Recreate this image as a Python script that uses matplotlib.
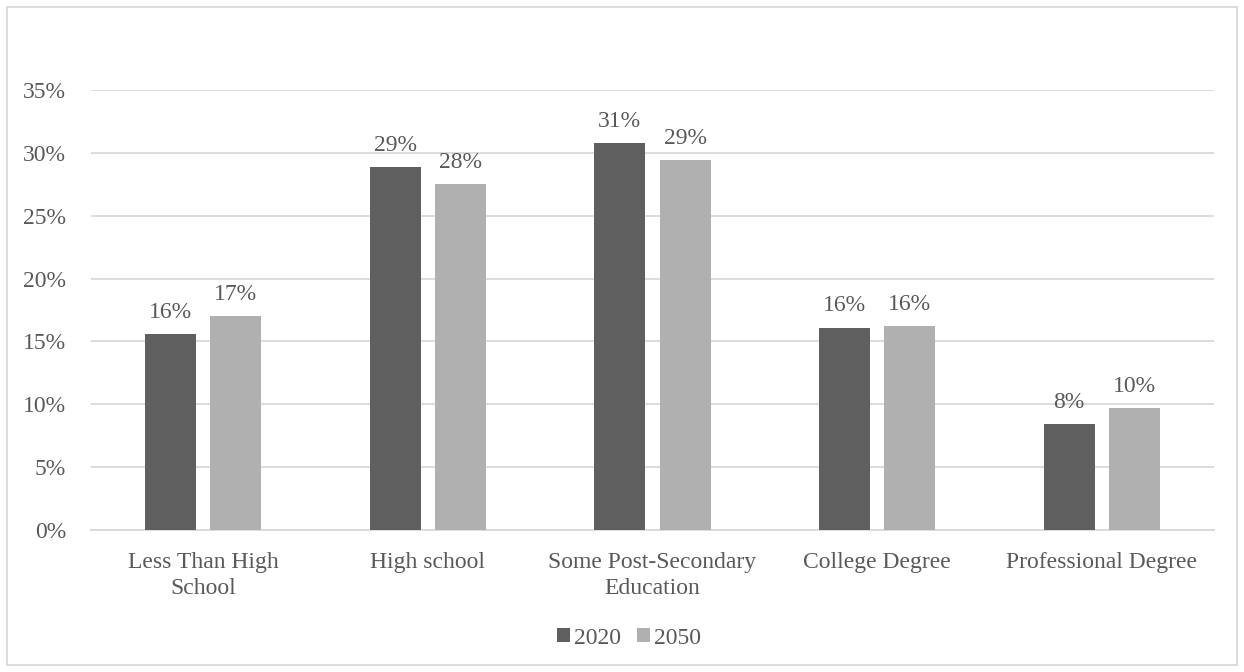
import matplotlib
matplotlib.use("Agg")
import matplotlib.pyplot as plt
import numpy as np
from matplotlib.patches import Rectangle

categories = ["Less Than High\nSchool", "High school", "Some Post-Secondary\nEducation",
              "College Degree", "Professional Degree"]
series_names = ["2020", "2050"]
values_2020 = [15.6, 28.9, 30.8, 16.1, 8.4]
values_2050 = [17.0, 27.5, 29.4, 16.2, 9.7]
yticks = [0, 5, 10, 15, 20, 25, 30, 35]

colors = ["#5f5f5f", "#b0b0b0"]
text_color = "#595959"
grid_color = "#d9d9d9"
fs = 17

plt.rcParams['font.family'] = ['Liberation Serif', 'DejaVu Serif']

fig = plt.figure(figsize=(12.44, 6.72), dpi=100)
ax = fig.add_axes([91/1244, 1 - 530/672, (1214-91)/1244, (530-90)/672])

x = np.arange(len(categories))
w = 0.227
off = 0.145
b1 = ax.bar(x - off, values_2020, w, color=colors[0], label=series_names[0], zorder=3)
b2 = ax.bar(x + off, values_2050, w, color=colors[1], label=series_names[1], zorder=3)

for bars, vals in ((b1, values_2020), (b2, values_2050)):
    for r, v in zip(bars, vals):
        ax.annotate(f"{round(v):.0f}%", (r.get_x() + r.get_width()/2, v),
                    xytext=(0, 8), textcoords="offset points", ha="center", va="bottom",
                    fontsize=fs, color=text_color)

ax.set_xlim(-0.5, len(categories) - 0.5)
ax.set_ylim(0, 35)
ax.set_yticks(yticks)
ax.set_yticklabels([f"{t}%" for t in yticks])
ax.set_xticks(x)
ax.set_xticklabels(categories, linespacing=1.33)
ax.tick_params(axis='both', length=0, labelsize=fs, colors=text_color)
ax.tick_params(axis='y', pad=18)
ax.tick_params(axis='x', pad=15.5)
ax.yaxis.grid(True, color=grid_color, linewidth=1.3, zorder=0)
ax.set_axisbelow(True)
for s in ["top", "right", "left"]:
    ax.spines[s].set_visible(False)
ax.spines["bottom"].set_color(grid_color)
ax.spines["bottom"].set_linewidth(1.3)

leg = fig.legend(loc="center", bbox_to_anchor=(629/1244, 1 - 638/672), ncol=2, frameon=False,
                 fontsize=fs, handlelength=0.55, handleheight=0.55, handletextpad=0.15,
                 columnspacing=0.7, labelcolor=text_color)

fig.patches.append(Rectangle((7/1244, 7/672), 1230/1244, 658/672, transform=fig.transFigure,
                             fill=False, edgecolor=grid_color, linewidth=1.3))

fig.savefig("out.png", dpi=100, facecolor="white")
